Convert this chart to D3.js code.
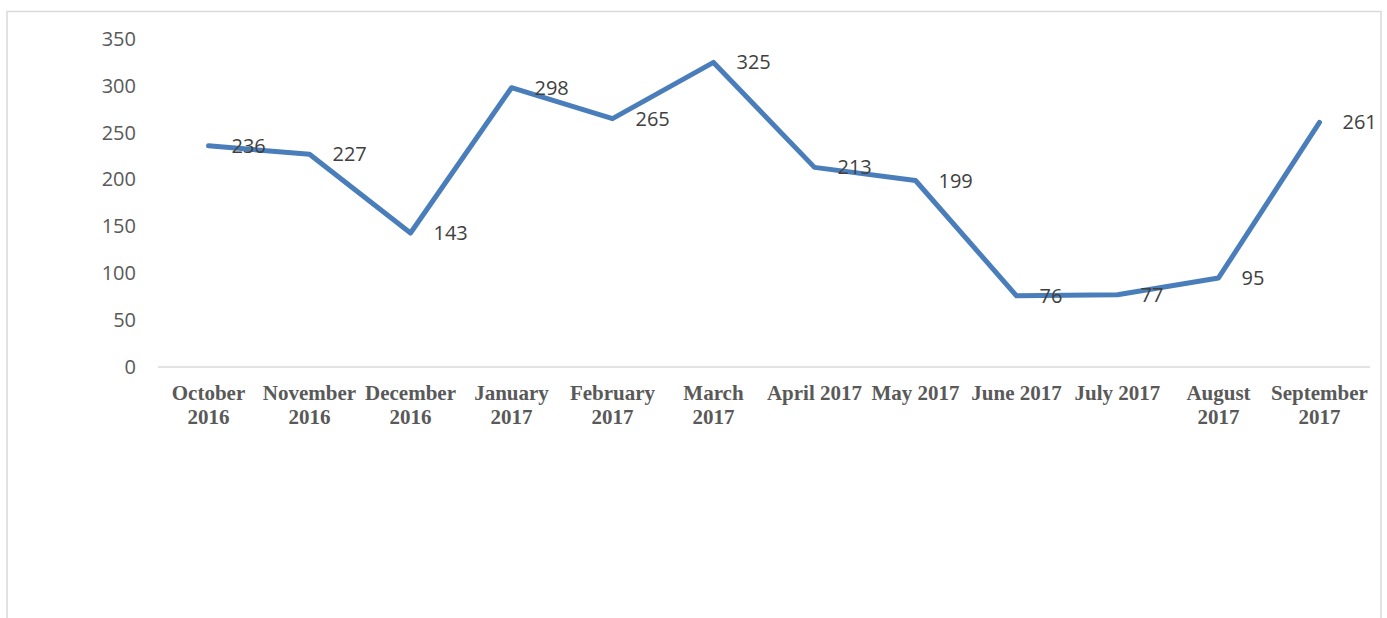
<!DOCTYPE html>
<html>
<head>
<meta charset="utf-8">
<script src="https://cdn.jsdelivr.net/npm/d3@7"></script>
<style>
  html, body { margin: 0; padding: 0; background: #fff; }
  svg { display: block; }
</style>
</head>
<body>
<svg id="chart" width="1387" height="618"></svg>
<script>
// Monthly counts, October 2016 – September 2017
const months = [
  ["October", "2016"], ["November", "2016"], ["December", "2016"],
  ["January", "2017"], ["February", "2017"], ["March", "2017"],
  ["April 2017"], ["May 2017"], ["June 2017"], ["July 2017"],
  ["August", "2017"], ["September", "2017"]
];
const values = [236, 227, 143, 298, 265, 325, 213, 199, 76, 77, 95, 261];
const yTicks = [0, 50, 100, 150, 200, 250, 300, 350];

const svg = d3.select("#chart");

// chart frame
svg.append("rect")
  .attr("x", 7).attr("y", 11.5)
  .attr("width", 1374).attr("height", 640)
  .attr("fill", "none").attr("stroke", "#d9d9d9").attr("stroke-width", 1.5);

const plot = { left: 158, right: 1370, top: 39, bottom: 367 };

const x = d3.scaleBand()
  .domain(d3.range(months.length))
  .range([plot.left, plot.right]);

const y = d3.scaleLinear()
  .domain([0, 350])
  .range([plot.bottom, plot.top]);

const cx = i => x(i) + x.bandwidth() / 2;

// value axis labels
const yAxis = d3.axisLeft(y).tickValues(yTicks).tickSize(0).tickPadding(0);
const yg = svg.append("g").attr("transform", `translate(136,0)`).call(yAxis);
yg.select(".domain").remove();
yg.selectAll("text")
  .attr("fill", "#595959")
  .style("font-family", "'Open Sans', 'Noto Sans', sans-serif")
  .style("font-size", "20px");

// category axis line
svg.append("line")
  .attr("x1", plot.left).attr("x2", plot.right)
  .attr("y1", y(0)).attr("y2", y(0))
  .attr("stroke", "#d9d9d9").attr("stroke-width", 1.5);

// category labels (two lines where the month wraps)
const xl = svg.append("g")
  .style("font-family", "'Liberation Serif', 'Times New Roman', serif")
  .style("font-weight", "bold")
  .style("font-size", "21px")
  .attr("fill", "#595959")
  .attr("text-anchor", "middle");
months.forEach((lines, i) => {
  const t = xl.append("text").attr("x", cx(i)).attr("y", 400);
  lines.forEach((ln, k) => {
    t.append("tspan").attr("x", cx(i)).attr("dy", k === 0 ? 0 : 24).text(ln);
  });
});

// series line
const line = d3.line()
  .x((d, i) => cx(i))
  .y(d => y(d));

svg.append("path")
  .datum(values)
  .attr("d", line)
  .attr("fill", "none")
  .attr("stroke", "#4a7ebb")
  .attr("stroke-width", 5)
  .attr("stroke-linejoin", "round")
  .attr("stroke-linecap", "round");

// data labels to the right of each point
svg.append("g")
  .selectAll("text")
  .data(values)
  .join("text")
  .attr("x", (d, i) => cx(i) + 23)
  .attr("y", d => y(d))
  .attr("dy", "0.35em")
  .attr("fill", "#404040")
  .style("font-family", "'Open Sans', 'Noto Sans', sans-serif")
  .style("font-size", "20px")
  .text(d => d);
</script>
</body>
</html>
